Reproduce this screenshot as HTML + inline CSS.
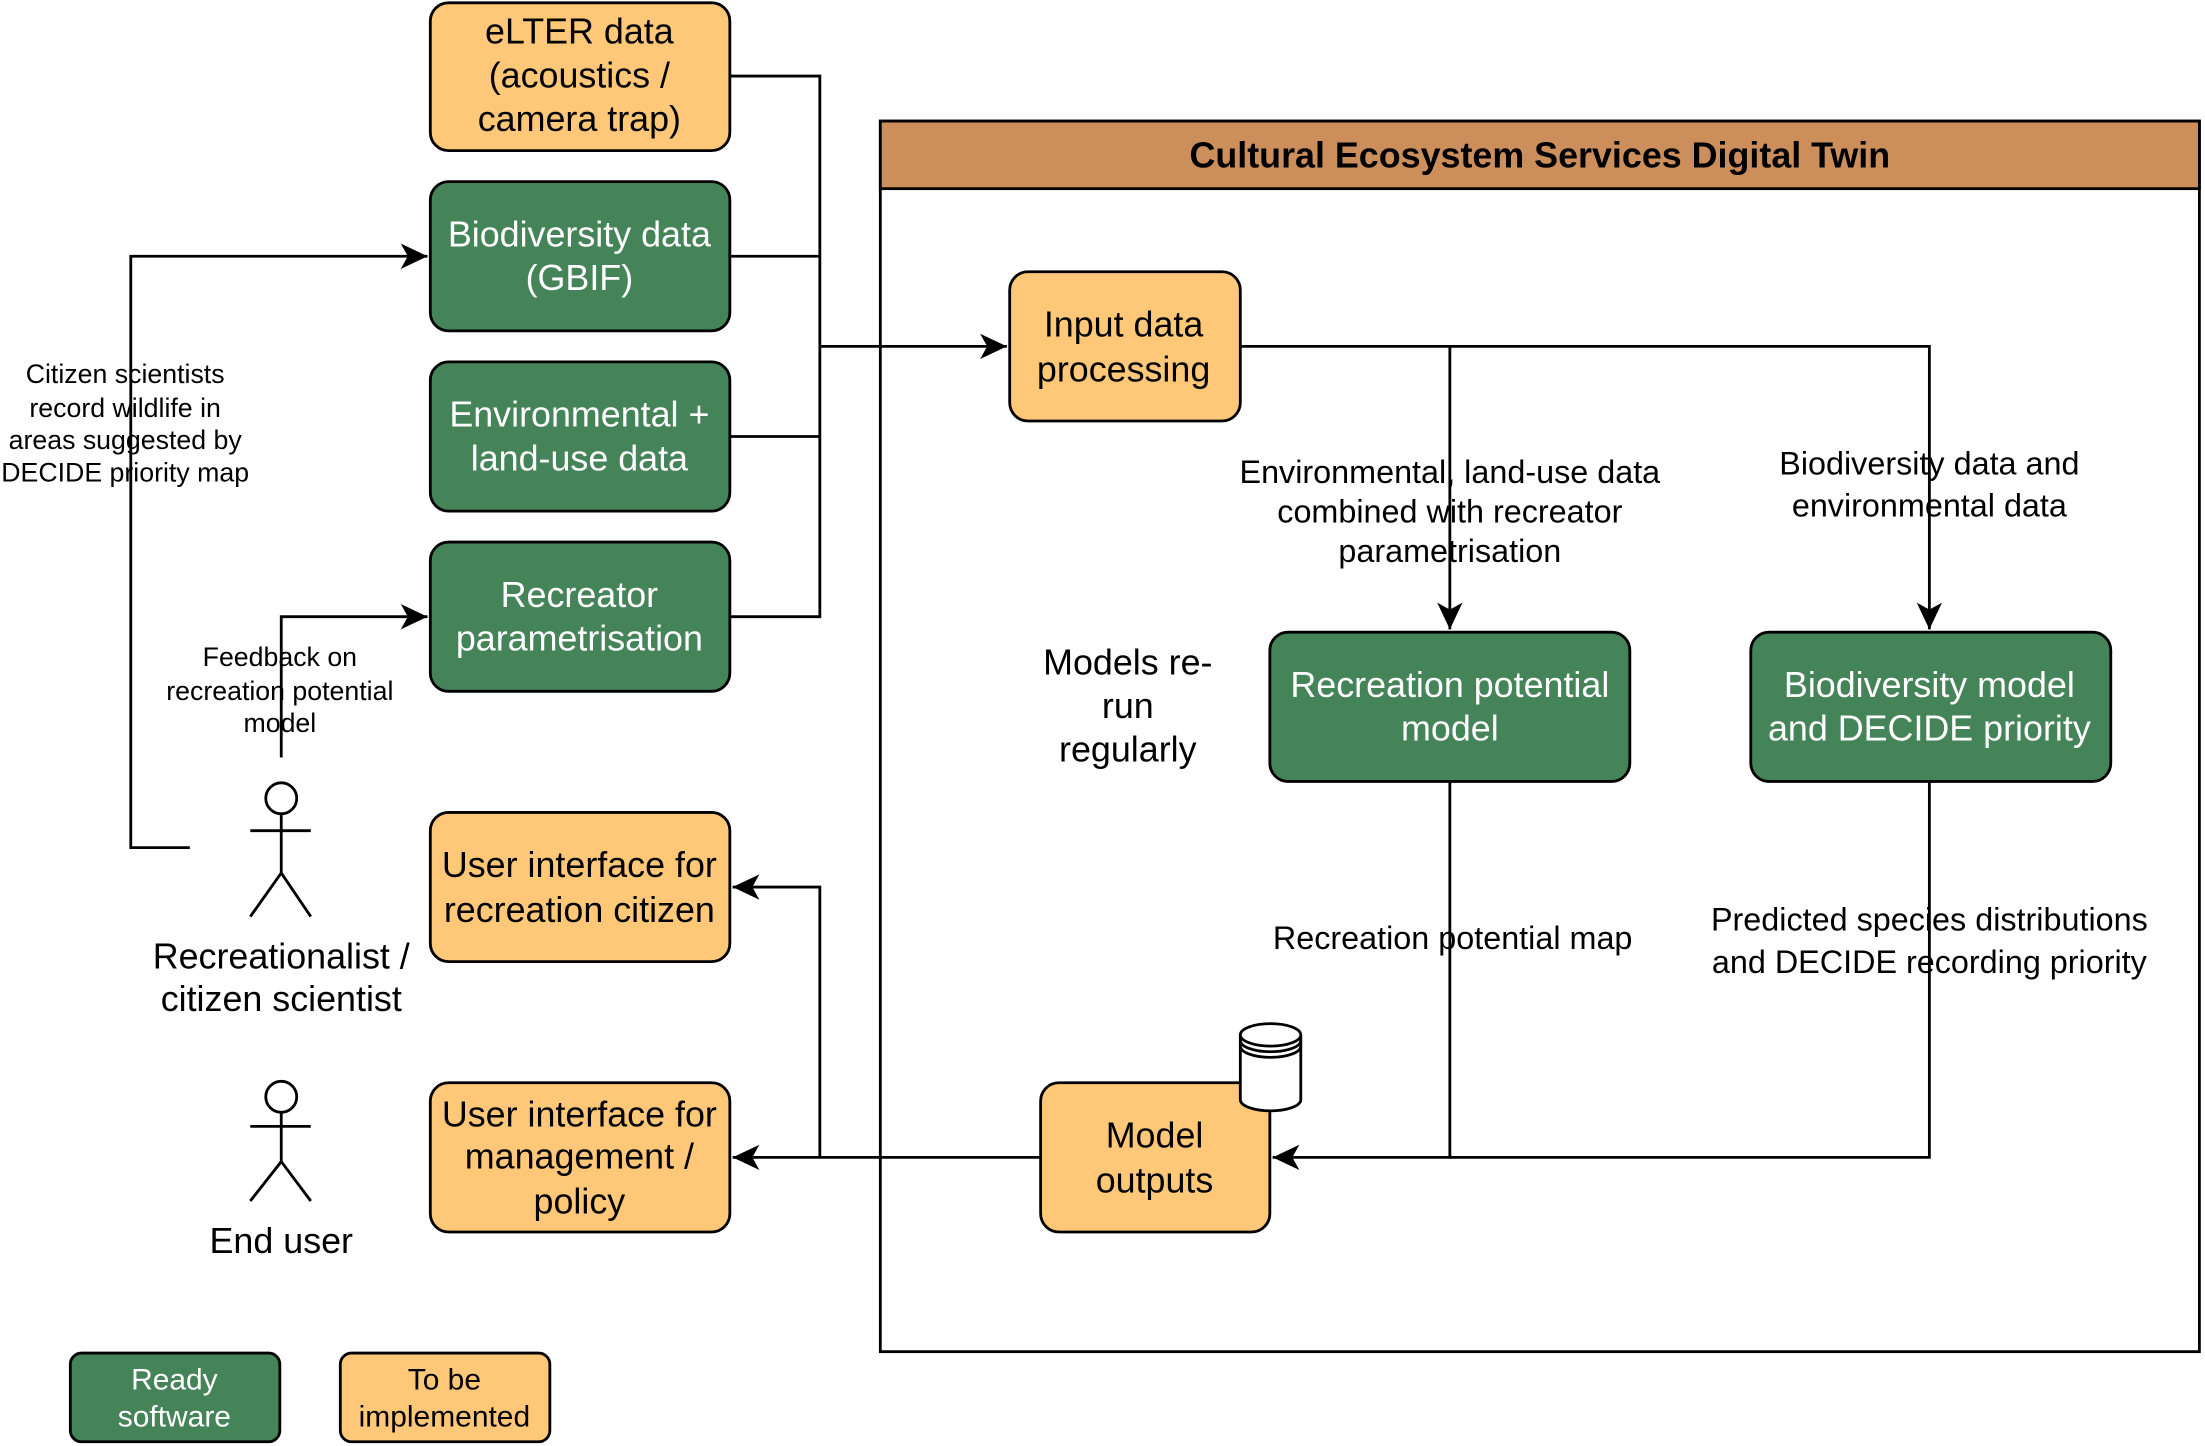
<!DOCTYPE html>
<html><head><meta charset="utf-8"><style>
html,body{margin:0;padding:0;background:#fff;}
svg{display:block;}
text{font-family:"Liberation Sans",Arial,sans-serif;}
</style></head><body>
<svg width="2205" height="1446" viewBox="0 0 1568 1027" preserveAspectRatio="none" xmlns="http://www.w3.org/2000/svg">
<defs>
<marker id="b" viewBox="0 0 20 20" refX="19" refY="10" markerWidth="20" markerHeight="20" orient="auto" markerUnits="userSpaceOnUse">
<path d="M0,1 L19,10 L0,19 L5,10 Z" fill="#000"/>
</marker>
</defs>
<g stroke="#000" stroke-width="2" fill="none">
<rect x="626" y="86" width="938" height="874" fill="#fff"/>
<rect x="626" y="86" width="938" height="48" fill="#CC8F5C"/>
<path d="M519,54 H583 V438 H519"/>
<path d="M519,182 H583"/>
<path d="M519,310 H583"/>
<path d="M583,246 H716" marker-end="url(#b)"/>
<path d="M882,246 H1372 V447" marker-end="url(#b)"/>
<path d="M1031,246 V447" marker-end="url(#b)"/>
<path d="M1031,555 V822 H905" marker-end="url(#b)"/>
<path d="M1372,555 V822 H1031"/>
<path d="M740,822 H521" marker-end="url(#b)"/>
<path d="M583,822 V630 H521" marker-end="url(#b)"/>
<path d="M135,602 H93 V182 H304" marker-end="url(#b)"/>
<path d="M200,538 V438 H304" marker-end="url(#b)"/>
</g>
<g stroke="#000" stroke-width="2">
<rect x="306" y="2" width="213" height="105" rx="13" fill="#FFC878"/>
<rect x="306" y="129" width="213" height="106" rx="13" fill="#458359"/>
<rect x="306" y="257" width="213" height="106" rx="13" fill="#458359"/>
<rect x="306" y="385" width="213" height="106" rx="13" fill="#458359"/>
<rect x="306" y="577" width="213" height="106" rx="13" fill="#FFC878"/>
<rect x="306" y="769" width="213" height="106" rx="13" fill="#FFC878"/>
<rect x="718" y="193" width="164" height="106" rx="13" fill="#FFC878"/>
<rect x="903" y="449" width="256" height="106" rx="13" fill="#458359"/>
<rect x="1245" y="449" width="256" height="106" rx="13" fill="#458359"/>
<rect x="740" y="769" width="163" height="106" rx="13" fill="#FFC878"/>
<rect x="50" y="961" width="149" height="63" rx="8" fill="#458359"/>
<rect x="242" y="961" width="149" height="63" rx="8" fill="#FFC878"/>
</g>
<g stroke="#000" stroke-width="2" fill="#fff">
<path d="M882,735 V781 A21.5,8 0 0 0 925,781 V735"/>
<ellipse cx="903.5" cy="735" rx="21.5" ry="8"/>
<path d="M882,739 A21.5,8 0 0 0 925,739 M882,743 A21.5,8 0 0 0 925,743" fill="none"/>
</g>
<g stroke="#000" stroke-width="2" fill="none">
<circle cx="200" cy="567" r="11" fill="#fff"/>
<path d="M200,578 V620 M178,590 H221 M178,651 L200,620 L221,651"/>
<circle cx="200" cy="779" r="11" fill="#fff"/>
<path d="M200,790 V825 M178,800 H221 M178,853 L200,825 L221,853"/>
</g>
<g font-size="25.5" text-anchor="middle">
<text x="412" y="31">eLTER data</text>
<text x="412" y="62">(acoustics /</text>
<text x="412" y="93">camera trap)</text>
<g fill="#fff">
<text x="412" y="175">Biodiversity data</text>
<text x="412" y="206">(GBIF)</text>
<text x="412" y="303">Environmental +</text>
<text x="412" y="334">land-use data</text>
<text x="412" y="431">Recreator</text>
<text x="412" y="462">parametrisation</text>
<text x="1031" y="495">Recreation potential</text>
<text x="1031" y="526">model</text>
<text x="1372" y="495">Biodiversity model</text>
<text x="1372" y="526">and DECIDE priority</text>
</g>
<text x="412" y="623">User interface for</text>
<text x="412" y="655">recreation citizen</text>
<text x="412" y="800">User interface for</text>
<text x="412" y="830">management /</text>
<text x="412" y="862">policy</text>
<text x="799" y="239">Input data</text>
<text x="799" y="271">processing</text>
<text x="821" y="815">Model</text>
<text x="821" y="847">outputs</text>
<text x="802" y="479">Models re-</text>
<text x="802" y="510">run</text>
<text x="802" y="541">regularly</text>
<text x="200" y="688">Recreationalist /</text>
<text x="200" y="718">citizen scientist</text>
<text x="200" y="890">End user</text>
</g>
<text x="1095" y="119" font-size="25.5" font-weight="bold" text-anchor="middle">Cultural Ecosystem Services Digital Twin</text>
<g font-size="23" text-anchor="middle">
<text x="1031" y="343">Environmental, land-use data</text>
<text x="1031" y="371">combined with recreator</text>
<text x="1031" y="399">parametrisation</text>
<text x="1372" y="337">Biodiversity data and</text>
<text x="1372" y="367">environmental data</text>
<text x="1033" y="674">Recreation potential map</text>
<text x="1372" y="661">Predicted species distributions</text>
<text x="1372" y="691">and DECIDE recording priority</text>
</g>
<g font-size="19" text-anchor="middle">
<text x="89" y="272">Citizen scientists</text>
<text x="89" y="296">record wildlife in</text>
<text x="89" y="319">areas suggested by</text>
<text x="89" y="342">DECIDE priority map</text>
<text x="199" y="473">Feedback on</text>
<text x="199" y="497">recreation potential</text>
<text x="199" y="520">model</text>
</g>
<g font-size="21.3" text-anchor="middle">
<text x="124" y="987" fill="#fff">Ready</text>
<text x="124" y="1013" fill="#fff">software</text>
<text x="316" y="987">To be</text>
<text x="316" y="1013">implemented</text>
</g>
</svg>
</body></html>
